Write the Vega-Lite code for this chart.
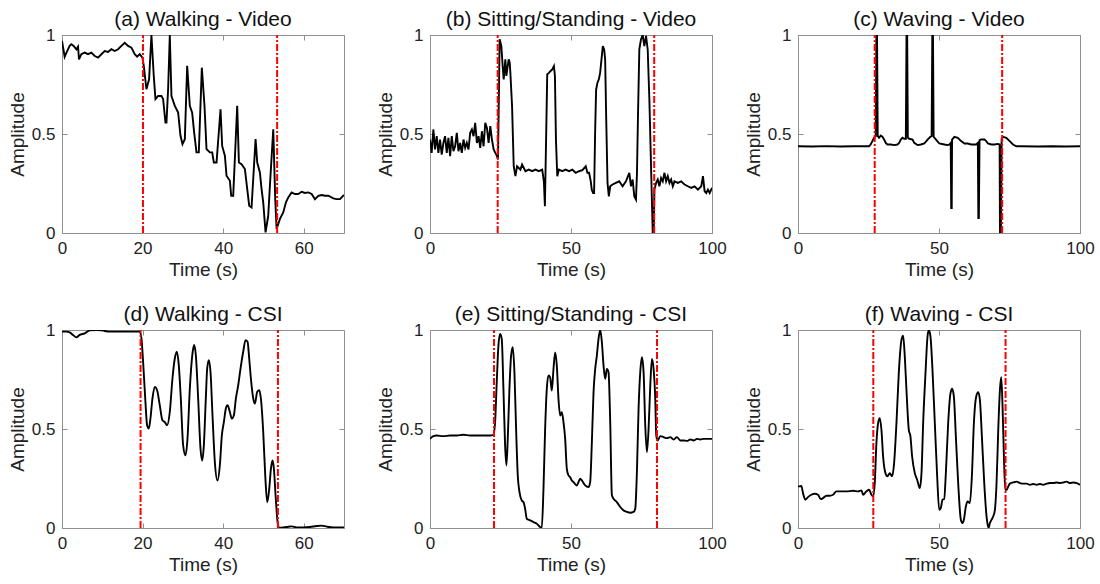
{
  "$schema": "https://vega.github.io/schema/vega-lite/v6.json",
  "background": "white",
  "padding": {"left": 7, "top": 8, "right": 5, "bottom": 5},
  "bounds": "flush",
  "columns": 3,
  "spacing": {"column": 86, "row": 97},
  "config": {
    "font": "Liberation Sans",
    "view": {"stroke": "#8f8f8f", "strokeWidth": 1},
    "axis": {"domain": false, "grid": false, "tickColor": "#8f8f8f", "tickSize": -5, "tickWidth": 1,
      "labelFontSize": 17, "labelColor": "#222222", "labelPadding": 12, "labelFlush": false,
      "titleFontSize": 19, "titleFontWeight": "normal", "titleColor": "#222222", "titlePadding": 4},
    "title": {"fontSize": 21, "fontWeight": "normal", "color": "#111111", "offset": -4}
  },
  "datasets": {
    "a": [{"t":0,"amp":0.97},{"t":0.66,"amp":0.89},{"t":1.08,"amp":0.91},{"t":1.91,"amp":0.945},{"t":2.32,"amp":0.953},{"t":2.9,"amp":0.945},{"t":3.56,"amp":0.928},{"t":3.98,"amp":0.941},{"t":4.22,"amp":0.877},{"t":4.8,"amp":0.903},{"t":5.63,"amp":0.911},{"t":6.46,"amp":0.903},{"t":7.29,"amp":0.911},{"t":8.12,"amp":0.894},{"t":8.95,"amp":0.886},{"t":9.78,"amp":0.903},{"t":10.6,"amp":0.919},{"t":11.43,"amp":0.914},{"t":12.26,"amp":0.928},{"t":13.09,"amp":0.919},{"t":13.92,"amp":0.928},{"t":14.75,"amp":0.945},{"t":15.57,"amp":0.961},{"t":16.4,"amp":0.945},{"t":17.23,"amp":0.936},{"t":18.06,"amp":0.903},{"t":18.64,"amp":0.891},{"t":19.3,"amp":0.903},{"t":19.96,"amp":0.886},{"t":20.3,"amp":0.844},{"t":20.96,"amp":0.726},{"t":21.62,"amp":0.776},{"t":22.2,"amp":1.0},{"t":22.78,"amp":0.793},{"t":23.2,"amp":0.676},{"t":23.86,"amp":0.692},{"t":24.69,"amp":0.692},{"t":25.1,"amp":0.676},{"t":25.68,"amp":0.558},{"t":25.93,"amp":0.558},{"t":26.34,"amp":0.726},{"t":26.76,"amp":1.0},{"t":27.17,"amp":0.692},{"t":28.0,"amp":0.642},{"t":28.83,"amp":0.608},{"t":29.41,"amp":0.491},{"t":29.91,"amp":0.449},{"t":30.49,"amp":0.474},{"t":31.07,"amp":0.844},{"t":31.73,"amp":0.642},{"t":32.31,"amp":0.608},{"t":32.8,"amp":0.508},{"t":33.38,"amp":0.407},{"t":33.96,"amp":0.407},{"t":34.71,"amp":0.835},{"t":35.37,"amp":0.642},{"t":35.87,"amp":0.424},{"t":36.7,"amp":0.407},{"t":37.28,"amp":0.407},{"t":37.69,"amp":0.356},{"t":38.36,"amp":0.356},{"t":39.35,"amp":0.625},{"t":39.76,"amp":0.44},{"t":40.43,"amp":0.39},{"t":40.84,"amp":0.289},{"t":41.67,"amp":0.264},{"t":42.0,"amp":0.188},{"t":42.5,"amp":0.188},{"t":43.49,"amp":0.642},{"t":43.91,"amp":0.356},{"t":44.57,"amp":0.348},{"t":45.4,"amp":0.323},{"t":45.98,"amp":0.222},{"t":46.47,"amp":0.138},{"t":47.05,"amp":0.129},{"t":48.05,"amp":0.474},{"t":48.46,"amp":0.356},{"t":49.12,"amp":0.306},{"t":49.54,"amp":0.222},{"t":49.95,"amp":0.155},{"t":50.53,"amp":0.003},{"t":51.19,"amp":0.087},{"t":51.61,"amp":0.239},{"t":52.44,"amp":0.524},{"t":52.93,"amp":0.171},{"t":53.27,"amp":0.02},{"t":54.1,"amp":0.071},{"t":54.92,"amp":0.104},{"t":55.59,"amp":0.155},{"t":56.17,"amp":0.18},{"t":56.99,"amp":0.205},{"t":57.82,"amp":0.197},{"t":58.65,"amp":0.197},{"t":59.48,"amp":0.208},{"t":60.31,"amp":0.202},{"t":61.14,"amp":0.205},{"t":61.97,"amp":0.197},{"t":62.79,"amp":0.171},{"t":63.62,"amp":0.188},{"t":64.45,"amp":0.192},{"t":65.28,"amp":0.188},{"t":66.11,"amp":0.188},{"t":67.35,"amp":0.175},{"t":68.18,"amp":0.171},{"t":69.01,"amp":0.171},{"t":69.42,"amp":0.18},{"t":70,"amp":0.192}],
    "b": [{"t":0,"amp":0.472},{"t":0.59,"amp":0.405},{"t":1.19,"amp":0.523},{"t":1.78,"amp":0.422},{"t":2.38,"amp":0.489},{"t":2.97,"amp":0.405},{"t":3.56,"amp":0.472},{"t":4.16,"amp":0.396},{"t":4.75,"amp":0.455},{"t":5.34,"amp":0.489},{"t":5.94,"amp":0.405},{"t":6.53,"amp":0.481},{"t":7.13,"amp":0.388},{"t":7.72,"amp":0.489},{"t":8.31,"amp":0.413},{"t":8.91,"amp":0.438},{"t":9.5,"amp":0.506},{"t":10.1,"amp":0.413},{"t":10.69,"amp":0.455},{"t":11.28,"amp":0.405},{"t":11.88,"amp":0.472},{"t":12.47,"amp":0.43},{"t":13.06,"amp":0.455},{"t":13.66,"amp":0.422},{"t":14.25,"amp":0.506},{"t":14.85,"amp":0.523},{"t":15.44,"amp":0.489},{"t":16.03,"amp":0.556},{"t":16.63,"amp":0.455},{"t":17.22,"amp":0.489},{"t":17.81,"amp":0.43},{"t":18.41,"amp":0.514},{"t":19.0,"amp":0.438},{"t":19.6,"amp":0.556},{"t":20.19,"amp":0.531},{"t":20.78,"amp":0.455},{"t":21.38,"amp":0.54},{"t":21.97,"amp":0.472},{"t":22.57,"amp":0.422},{"t":23.16,"amp":0.405},{"t":23.75,"amp":0.388},{"t":24.11,"amp":0.371},{"t":24.7,"amp":0.978},{"t":25.3,"amp":0.944},{"t":25.77,"amp":0.843},{"t":26.13,"amp":0.776},{"t":26.72,"amp":0.877},{"t":27.08,"amp":0.793},{"t":27.55,"amp":0.843},{"t":27.91,"amp":0.877},{"t":28.27,"amp":0.86},{"t":28.5,"amp":0.809},{"t":29.1,"amp":0.641},{"t":29.69,"amp":0.337},{"t":30.29,"amp":0.287},{"t":30.88,"amp":0.337},{"t":32.07,"amp":0.32},{"t":32.66,"amp":0.346},{"t":33.85,"amp":0.312},{"t":35.04,"amp":0.32},{"t":36.22,"amp":0.312},{"t":37.41,"amp":0.32},{"t":38.6,"amp":0.312},{"t":39.79,"amp":0.32},{"t":40.38,"amp":0.261},{"t":40.74,"amp":0.135},{"t":41.21,"amp":0.506},{"t":41.57,"amp":0.801},{"t":42.16,"amp":0.809},{"t":42.76,"amp":0.818},{"t":43.35,"amp":0.826},{"t":43.94,"amp":0.843},{"t":44.3,"amp":0.793},{"t":44.66,"amp":0.472},{"t":45.13,"amp":0.287},{"t":45.72,"amp":0.32},{"t":46.91,"amp":0.312},{"t":48.1,"amp":0.32},{"t":49.29,"amp":0.312},{"t":50.48,"amp":0.32},{"t":51.66,"amp":0.304},{"t":52.85,"amp":0.312},{"t":54.04,"amp":0.317},{"t":55.23,"amp":0.337},{"t":55.82,"amp":0.304},{"t":56.41,"amp":0.304},{"t":57.01,"amp":0.261},{"t":57.36,"amp":0.219},{"t":57.84,"amp":0.202},{"t":58.19,"amp":0.202},{"t":58.55,"amp":0.506},{"t":58.91,"amp":0.725},{"t":59.38,"amp":0.759},{"t":59.86,"amp":0.776},{"t":60.33,"amp":0.809},{"t":60.81,"amp":0.877},{"t":61.28,"amp":0.944},{"t":61.76,"amp":0.927},{"t":62.11,"amp":0.877},{"t":62.47,"amp":0.59},{"t":62.95,"amp":0.253},{"t":63.42,"amp":0.185},{"t":63.9,"amp":0.236},{"t":64.73,"amp":0.245},{"t":65.91,"amp":0.253},{"t":67.1,"amp":0.261},{"t":68.29,"amp":0.236},{"t":69.48,"amp":0.261},{"t":70.67,"amp":0.304},{"t":71.26,"amp":0.236},{"t":71.85,"amp":0.27},{"t":72.45,"amp":0.185},{"t":73.04,"amp":0.169},{"t":73.4,"amp":0.304},{"t":73.75,"amp":0.59},{"t":74.23,"amp":0.927},{"t":74.82,"amp":0.978},{"t":75.42,"amp":1.0},{"t":76.01,"amp":0.944},{"t":76.6,"amp":0.995},{"t":77.2,"amp":0.927},{"t":77.79,"amp":0.675},{"t":78.38,"amp":0.337},{"t":78.98,"amp":0},{"t":79.33,"amp":0},{"t":79.57,"amp":0.219},{"t":80.17,"amp":0.253},{"t":80.76,"amp":0.27},{"t":81.35,"amp":0.236},{"t":81.95,"amp":0.278},{"t":82.54,"amp":0.261},{"t":83.14,"amp":0.304},{"t":83.73,"amp":0.261},{"t":84.32,"amp":0.287},{"t":84.92,"amp":0.253},{"t":85.51,"amp":0.27},{"t":86.1,"amp":0.236},{"t":86.7,"amp":0.261},{"t":87.89,"amp":0.253},{"t":89.07,"amp":0.261},{"t":90.26,"amp":0.245},{"t":91.45,"amp":0.236},{"t":92.64,"amp":0.228},{"t":93.82,"amp":0.236},{"t":95.01,"amp":0.219},{"t":96.2,"amp":0.236},{"t":96.79,"amp":0.287},{"t":97.39,"amp":0.211},{"t":97.98,"amp":0.202},{"t":98.57,"amp":0.219},{"t":99.17,"amp":0.202},{"t":100,"amp":0.228}],
    "c": [{"t":0,"amp":0.438},{"t":5,"amp":0.437},{"t":10,"amp":0.439},{"t":15,"amp":0.437},{"t":20,"amp":0.438},{"t":25.18,"amp":0.438},{"t":25.77,"amp":0.447},{"t":26.37,"amp":0.464},{"t":26.96,"amp":0.481},{"t":27.55,"amp":0.489},{"t":27.79,"amp":1.0},{"t":28.03,"amp":1.0},{"t":28.27,"amp":0.489},{"t":28.74,"amp":0.481},{"t":29.33,"amp":0.492},{"t":29.93,"amp":0.486},{"t":30.52,"amp":0.472},{"t":31.12,"amp":0.455},{"t":31.71,"amp":0.447},{"t":32.9,"amp":0.447},{"t":34.09,"amp":0.444},{"t":35.27,"amp":0.447},{"t":35.87,"amp":0.455},{"t":36.46,"amp":0.472},{"t":37.05,"amp":0.481},{"t":37.65,"amp":0.476},{"t":38.24,"amp":0.476},{"t":38.48,"amp":1.0},{"t":38.72,"amp":1.0},{"t":38.95,"amp":0.481},{"t":39.43,"amp":0.476},{"t":40.62,"amp":0.472},{"t":41.21,"amp":0.455},{"t":42.4,"amp":0.444},{"t":43.59,"amp":0.447},{"t":44.77,"amp":0.452},{"t":45.96,"amp":0.472},{"t":46.91,"amp":0.486},{"t":47.39,"amp":0.489},{"t":47.62,"amp":1.0},{"t":47.86,"amp":1.0},{"t":48.1,"amp":0.486},{"t":48.93,"amp":0.472},{"t":50.12,"amp":0.452},{"t":51.9,"amp":0.447},{"t":53.09,"amp":0.444},{"t":53.68,"amp":0.447},{"t":54.16,"amp":0.455},{"t":54.33,"amp":0.126},{"t":54.51,"amp":0.126},{"t":54.63,"amp":0.472},{"t":55.46,"amp":0.486},{"t":56.65,"amp":0.481},{"t":57.84,"amp":0.464},{"t":59.03,"amp":0.452},{"t":60.21,"amp":0.452},{"t":61.4,"amp":0.447},{"t":63.18,"amp":0.447},{"t":63.78,"amp":0.455},{"t":63.95,"amp":0.076},{"t":64.13,"amp":0.076},{"t":64.37,"amp":0.469},{"t":64.96,"amp":0.472},{"t":66.15,"amp":0.472},{"t":66.75,"amp":0.464},{"t":67.34,"amp":0.452},{"t":68.53,"amp":0.447},{"t":69.71,"amp":0.447},{"t":70.9,"amp":0.45},{"t":71.5,"amp":0.447},{"t":71.62,"amp":0},{"t":71.97,"amp":0},{"t":72.21,"amp":0.476},{"t":72.68,"amp":0.486},{"t":73.87,"amp":0.481},{"t":75.06,"amp":0.464},{"t":76.25,"amp":0.447},{"t":77.43,"amp":0.438},{"t":79.22,"amp":0.438},{"t":85,"amp":0.437},{"t":90,"amp":0.438},{"t":95,"amp":0.437},{"t":100,"amp":0.438}],
    "d": [{"t":0,"amp":0.992},{"t":1.08,"amp":0.992},{"t":1.91,"amp":0.988},{"t":2.73,"amp":0.975},{"t":3.56,"amp":0.963},{"t":4.39,"amp":0.975},{"t":5.63,"amp":0.983},{"t":6.88,"amp":0.998},{"t":8.53,"amp":1.0},{"t":9.78,"amp":0.999},{"t":10.6,"amp":0.995},{"t":11.85,"amp":0.992},{"t":14.33,"amp":0.992},{"t":17.65,"amp":0.992},{"t":19.3,"amp":0.992},{"t":19.72,"amp":0.958},{"t":20.13,"amp":0.84},{"t":20.71,"amp":0.637},{"t":21.12,"amp":0.519},{"t":21.54,"amp":0.502},{"t":21.95,"amp":0.552},{"t":22.45,"amp":0.654},{"t":23.03,"amp":0.713},{"t":23.61,"amp":0.696},{"t":24.27,"amp":0.62},{"t":24.94,"amp":0.544},{"t":25.52,"amp":0.535},{"t":26.09,"amp":0.519},{"t":26.76,"amp":0.586},{"t":27.42,"amp":0.755},{"t":28.0,"amp":0.856},{"t":28.5,"amp":0.89},{"t":28.99,"amp":0.823},{"t":29.49,"amp":0.654},{"t":30.07,"amp":0.417},{"t":30.65,"amp":0.367},{"t":31.15,"amp":0.451},{"t":31.73,"amp":0.704},{"t":32.39,"amp":0.882},{"t":32.8,"amp":0.924},{"t":33.22,"amp":0.873},{"t":33.8,"amp":0.654},{"t":34.38,"amp":0.4},{"t":34.79,"amp":0.341},{"t":35.21,"amp":0.417},{"t":35.7,"amp":0.654},{"t":36.04,"amp":0.806},{"t":36.45,"amp":0.848},{"t":36.86,"amp":0.789},{"t":37.36,"amp":0.569},{"t":37.94,"amp":0.333},{"t":38.6,"amp":0.24},{"t":39.18,"amp":0.316},{"t":39.68,"amp":0.468},{"t":40.18,"amp":0.535},{"t":40.67,"amp":0.603},{"t":41.09,"amp":0.62},{"t":41.67,"amp":0.586},{"t":42.16,"amp":0.552},{"t":42.66,"amp":0.569},{"t":43.16,"amp":0.654},{"t":43.74,"amp":0.721},{"t":44.32,"amp":0.806},{"t":44.98,"amp":0.89},{"t":45.56,"amp":0.949},{"t":46.06,"amp":0.941},{"t":46.47,"amp":0.856},{"t":46.89,"amp":0.755},{"t":47.47,"amp":0.654},{"t":47.88,"amp":0.628},{"t":48.46,"amp":0.688},{"t":48.96,"amp":0.696},{"t":49.37,"amp":0.654},{"t":49.95,"amp":0.485},{"t":50.45,"amp":0.265},{"t":50.95,"amp":0.13},{"t":51.44,"amp":0.198},{"t":51.86,"amp":0.299},{"t":52.27,"amp":0.341},{"t":52.6,"amp":0.299},{"t":53.02,"amp":0.164},{"t":53.52,"amp":0.029},{"t":53.93,"amp":0},{"t":54.51,"amp":0.002},{"t":55.75,"amp":0.005},{"t":57.0,"amp":0.008},{"t":58.24,"amp":0.003},{"t":59.89,"amp":0.003},{"t":61.55,"amp":0.005},{"t":63.21,"amp":0.01},{"t":64.45,"amp":0.012},{"t":65.69,"amp":0.007},{"t":67.35,"amp":0.003},{"t":70,"amp":0.003}],
    "e": [{"t":0,"amp":0.45},{"t":1.18,"amp":0.464},{"t":2.37,"amp":0.467},{"t":4.73,"amp":0.464},{"t":7.1,"amp":0.467},{"t":9.47,"amp":0.467},{"t":11.83,"amp":0.471},{"t":14.2,"amp":0.467},{"t":16.57,"amp":0.467},{"t":18.93,"amp":0.467},{"t":21.3,"amp":0.467},{"t":22.49,"amp":0.471},{"t":23.08,"amp":0.534},{"t":23.67,"amp":0.736},{"t":24.26,"amp":0.921},{"t":24.85,"amp":0.98},{"t":25.44,"amp":0.955},{"t":26.04,"amp":0.703},{"t":26.63,"amp":0.417},{"t":27.1,"amp":0.316},{"t":27.57,"amp":0.45},{"t":28.17,"amp":0.703},{"t":28.76,"amp":0.871},{"t":29.35,"amp":0.913},{"t":29.94,"amp":0.787},{"t":30.53,"amp":0.501},{"t":31.12,"amp":0.266},{"t":31.72,"amp":0.182},{"t":32.54,"amp":0.139},{"t":33.14,"amp":0.131},{"t":33.73,"amp":0.097},{"t":34.32,"amp":0.047},{"t":35.5,"amp":0.039},{"t":36.69,"amp":0.03},{"t":37.87,"amp":0.022},{"t":39.05,"amp":0.005},{"t":39.64,"amp":0},{"t":40.24,"amp":0.198},{"t":40.83,"amp":0.501},{"t":41.42,"amp":0.703},{"t":42.01,"amp":0.77},{"t":42.6,"amp":0.761},{"t":43.2,"amp":0.694},{"t":43.79,"amp":0.803},{"t":44.38,"amp":0.887},{"t":44.97,"amp":0.82},{"t":45.56,"amp":0.652},{"t":46.15,"amp":0.568},{"t":46.75,"amp":0.585},{"t":47.34,"amp":0.534},{"t":47.93,"amp":0.45},{"t":48.52,"amp":0.299},{"t":49.11,"amp":0.266},{"t":49.7,"amp":0.257},{"t":50.3,"amp":0.24},{"t":50.89,"amp":0.232},{"t":52.07,"amp":0.215},{"t":52.66,"amp":0.232},{"t":53.25,"amp":0.249},{"t":53.85,"amp":0.24},{"t":55.03,"amp":0.215},{"t":56.21,"amp":0.207},{"t":56.8,"amp":0.232},{"t":57.4,"amp":0.434},{"t":57.99,"amp":0.686},{"t":58.58,"amp":0.803},{"t":59.17,"amp":0.871},{"t":59.76,"amp":0.955},{"t":60.36,"amp":1.0},{"t":60.95,"amp":0.938},{"t":61.54,"amp":0.82},{"t":62.13,"amp":0.753},{"t":62.72,"amp":0.803},{"t":63.31,"amp":0.787},{"t":63.91,"amp":0.534},{"t":64.5,"amp":0.165},{"t":65.09,"amp":0.148},{"t":66.27,"amp":0.131},{"t":67.46,"amp":0.106},{"t":68.64,"amp":0.089},{"t":69.82,"amp":0.081},{"t":71.01,"amp":0.077},{"t":72.19,"amp":0.081},{"t":72.78,"amp":0.097},{"t":73.37,"amp":0.282},{"t":73.96,"amp":0.602},{"t":74.56,"amp":0.787},{"t":75.15,"amp":0.862},{"t":75.74,"amp":0.787},{"t":76.33,"amp":0.518},{"t":76.92,"amp":0.383},{"t":77.51,"amp":0.501},{"t":78.11,"amp":0.719},{"t":78.7,"amp":0.854},{"t":79.29,"amp":0.803},{"t":79.88,"amp":0.652},{"t":80.24,"amp":0.467},{"t":80.71,"amp":0.442},{"t":81.66,"amp":0.464},{"t":82.84,"amp":0.459},{"t":84.02,"amp":0.454},{"t":85.21,"amp":0.459},{"t":86.39,"amp":0.447},{"t":87.57,"amp":0.459},{"t":88.76,"amp":0.442},{"t":89.94,"amp":0.442},{"t":91.12,"amp":0.44},{"t":92.31,"amp":0.447},{"t":93.49,"amp":0.442},{"t":94.67,"amp":0.45},{"t":95.86,"amp":0.447},{"t":97.04,"amp":0.45},{"t":100,"amp":0.45}],
    "f": [{"t":0,"amp":0.21},{"t":0.59,"amp":0.21},{"t":1.18,"amp":0.213},{"t":1.78,"amp":0.176},{"t":2.6,"amp":0.143},{"t":3.55,"amp":0.156},{"t":4.73,"amp":0.168},{"t":5.92,"amp":0.173},{"t":7.1,"amp":0.168},{"t":8.05,"amp":0.146},{"t":8.88,"amp":0.151},{"t":10.06,"amp":0.163},{"t":11.24,"amp":0.163},{"t":12.43,"amp":0.168},{"t":13.61,"amp":0.185},{"t":15.38,"amp":0.185},{"t":17.16,"amp":0.185},{"t":19.53,"amp":0.188},{"t":21.3,"amp":0.185},{"t":22.49,"amp":0.19},{"t":23.08,"amp":0.168},{"t":24.26,"amp":0.185},{"t":25.21,"amp":0.193},{"t":26.04,"amp":0.168},{"t":26.63,"amp":0.16},{"t":27.22,"amp":0.227},{"t":27.81,"amp":0.429},{"t":28.4,"amp":0.529},{"t":28.99,"amp":0.555},{"t":29.59,"amp":0.496},{"t":30.18,"amp":0.361},{"t":31.01,"amp":0.277},{"t":31.72,"amp":0.261},{"t":32.54,"amp":0.277},{"t":33.37,"amp":0.261},{"t":34.08,"amp":0.328},{"t":34.91,"amp":0.529},{"t":35.74,"amp":0.782},{"t":36.69,"amp":0.95},{"t":37.28,"amp":0.971},{"t":37.87,"amp":0.866},{"t":38.46,"amp":0.697},{"t":39.29,"amp":0.496},{"t":39.88,"amp":0.462},{"t":40.47,"amp":0.361},{"t":41.42,"amp":0.277},{"t":42.25,"amp":0.244},{"t":43.2,"amp":0.202},{"t":43.79,"amp":0.277},{"t":44.38,"amp":0.529},{"t":45.21,"amp":0.782},{"t":45.92,"amp":0.966},{"t":46.39,"amp":1.0},{"t":46.98,"amp":0.966},{"t":47.69,"amp":0.798},{"t":48.52,"amp":0.529},{"t":49.35,"amp":0.261},{"t":50.06,"amp":0.092},{"t":50.65,"amp":0.101},{"t":51.24,"amp":0.143},{"t":51.83,"amp":0.146},{"t":52.43,"amp":0.277},{"t":53.25,"amp":0.529},{"t":54.08,"amp":0.681},{"t":54.67,"amp":0.703},{"t":55.27,"amp":0.664},{"t":55.98,"amp":0.462},{"t":56.8,"amp":0.227},{"t":57.75,"amp":0.042},{"t":58.34,"amp":0.025},{"t":58.82,"amp":0.042},{"t":59.53,"amp":0.109},{"t":60.12,"amp":0.134},{"t":60.95,"amp":0.126},{"t":61.66,"amp":0.261},{"t":62.37,"amp":0.529},{"t":63.2,"amp":0.664},{"t":63.91,"amp":0.686},{"t":64.5,"amp":0.647},{"t":65.21,"amp":0.462},{"t":66.04,"amp":0.227},{"t":66.86,"amp":0.059},{"t":67.57,"amp":0},{"t":68.05,"amp":0.025},{"t":68.64,"amp":0.042},{"t":69.23,"amp":0.059},{"t":69.82,"amp":0.092},{"t":70.41,"amp":0.227},{"t":71.01,"amp":0.496},{"t":71.6,"amp":0.697},{"t":72.07,"amp":0.761},{"t":72.54,"amp":0.613},{"t":73.02,"amp":0.361},{"t":73.49,"amp":0.193},{"t":73.96,"amp":0.193},{"t":74.56,"amp":0.21},{"t":75.15,"amp":0.224},{"t":76.33,"amp":0.23},{"t":77.51,"amp":0.234},{"t":78.7,"amp":0.227},{"t":79.88,"amp":0.224},{"t":81.07,"amp":0.224},{"t":82.25,"amp":0.218},{"t":83.43,"amp":0.222},{"t":84.62,"amp":0.218},{"t":85.8,"amp":0.222},{"t":86.98,"amp":0.218},{"t":88.17,"amp":0.224},{"t":89.35,"amp":0.227},{"t":90.53,"amp":0.227},{"t":91.72,"amp":0.23},{"t":92.9,"amp":0.227},{"t":94.08,"amp":0.23},{"t":95.27,"amp":0.234},{"t":96.45,"amp":0.227},{"t":97.63,"amp":0.23},{"t":98.82,"amp":0.227},{"t":100,"amp":0.218}]
  },
  "concat": [
    {
      "title": "(a) Walking - Video", "width": 282, "height": 198,
      "resolve": {"axis": {"x": "independent", "y": "independent"}},
      "layer": [
        {"data": {"name": "a"}, "mark": {"type": "line", "color": "black", "strokeWidth": 1.9, "clip": true},
         "encoding": {"x": {"field": "t", "type": "quantitative", "scale": {"domain": [0, 70], "nice": false}, "axis": {"orient": "bottom", "values": [0, 20, 40, 60], "title": "Time (s)"}},
                      "y": {"field": "amp", "type": "quantitative", "scale": {"domain": [0, 1], "nice": false}, "axis": {"orient": "left", "values": [0, 0.5, 1], "format": "~g", "title": "Amplitude"}}}},
        {"data": {"values": [{"t": 20.1}, {"t": 53.4}]}, "mark": {"type": "rule", "color": "#ff0000", "strokeWidth": 2, "strokeDash": [7, 2, 2, 2]},
         "encoding": {"x": {"field": "t", "type": "quantitative", "axis": {"orient": "top", "values": [0, 20, 40, 60], "labels": false, "title": null}},
                      "y": {"datum": 0, "type": "quantitative", "axis": {"orient": "right", "values": [0, 0.5, 1], "labels": false, "title": null}}, "y2": {"datum": 1}}}
      ]
    },
    {
      "title": "(b) Sitting/Standing - Video", "width": 282, "height": 198,
      "resolve": {"axis": {"x": "independent", "y": "independent"}},
      "layer": [
        {"data": {"name": "b"}, "mark": {"type": "line", "color": "black", "strokeWidth": 1.9, "clip": true},
         "encoding": {"x": {"field": "t", "type": "quantitative", "scale": {"domain": [0, 100], "nice": false}, "axis": {"orient": "bottom", "values": [0, 50, 100], "title": "Time (s)"}},
                      "y": {"field": "amp", "type": "quantitative", "scale": {"domain": [0, 1], "nice": false}, "axis": {"orient": "left", "values": [0, 0.5, 1], "format": "~g", "title": "Amplitude"}}}},
        {"data": {"values": [{"t": 24.0}, {"t": 79.5}]}, "mark": {"type": "rule", "color": "#ff0000", "strokeWidth": 2, "strokeDash": [7, 2, 2, 2]},
         "encoding": {"x": {"field": "t", "type": "quantitative", "axis": {"orient": "top", "values": [0, 50, 100], "labels": false, "title": null}},
                      "y": {"datum": 0, "type": "quantitative", "axis": {"orient": "right", "values": [0, 0.5, 1], "labels": false, "title": null}}, "y2": {"datum": 1}}}
      ]
    },
    {
      "title": "(c) Waving - Video", "width": 282, "height": 198,
      "resolve": {"axis": {"x": "independent", "y": "independent"}},
      "layer": [
        {"data": {"name": "c"}, "mark": {"type": "line", "color": "black", "strokeWidth": 1.9, "clip": true},
         "encoding": {"x": {"field": "t", "type": "quantitative", "scale": {"domain": [0, 100], "nice": false}, "axis": {"orient": "bottom", "values": [0, 50, 100], "title": "Time (s)"}},
                      "y": {"field": "amp", "type": "quantitative", "scale": {"domain": [0, 1], "nice": false}, "axis": {"orient": "left", "values": [0, 0.5, 1], "format": "~g", "title": "Amplitude"}}}},
        {"data": {"values": [{"t": 27.2}, {"t": 72.4}]}, "mark": {"type": "rule", "color": "#ff0000", "strokeWidth": 2, "strokeDash": [7, 2, 2, 2]},
         "encoding": {"x": {"field": "t", "type": "quantitative", "axis": {"orient": "top", "values": [0, 50, 100], "labels": false, "title": null}},
                      "y": {"datum": 0, "type": "quantitative", "axis": {"orient": "right", "values": [0, 0.5, 1], "labels": false, "title": null}}, "y2": {"datum": 1}}}
      ]
    },
    {
      "title": "(d) Walking - CSI", "width": 282, "height": 198,
      "resolve": {"axis": {"x": "independent", "y": "independent"}},
      "layer": [
        {"data": {"name": "d"}, "mark": {"type": "line", "color": "black", "strokeWidth": 1.9, "clip": true, "interpolate": "monotone"},
         "encoding": {"x": {"field": "t", "type": "quantitative", "scale": {"domain": [0, 70], "nice": false}, "axis": {"orient": "bottom", "values": [0, 20, 40, 60], "title": "Time (s)"}},
                      "y": {"field": "amp", "type": "quantitative", "scale": {"domain": [0, 1], "nice": false}, "axis": {"orient": "left", "values": [0, 0.5, 1], "format": "~g", "title": "Amplitude"}}}},
        {"data": {"values": [{"t": 19.5}, {"t": 53.6}]}, "mark": {"type": "rule", "color": "#ff0000", "strokeWidth": 2, "strokeDash": [7, 2, 2, 2]},
         "encoding": {"x": {"field": "t", "type": "quantitative", "axis": {"orient": "top", "values": [0, 20, 40, 60], "labels": false, "title": null}},
                      "y": {"datum": 0, "type": "quantitative", "axis": {"orient": "right", "values": [0, 0.5, 1], "labels": false, "title": null}}, "y2": {"datum": 1}}}
      ]
    },
    {
      "title": "(e) Sitting/Standing - CSI", "width": 282, "height": 198,
      "resolve": {"axis": {"x": "independent", "y": "independent"}},
      "layer": [
        {"data": {"name": "e"}, "mark": {"type": "line", "color": "black", "strokeWidth": 1.9, "clip": true, "interpolate": "monotone"},
         "encoding": {"x": {"field": "t", "type": "quantitative", "scale": {"domain": [0, 100], "nice": false}, "axis": {"orient": "bottom", "values": [0, 50, 100], "title": "Time (s)"}},
                      "y": {"field": "amp", "type": "quantitative", "scale": {"domain": [0, 1], "nice": false}, "axis": {"orient": "left", "values": [0, 0.5, 1], "format": "~g", "title": "Amplitude"}}}},
        {"data": {"values": [{"t": 22.7}, {"t": 80.5}]}, "mark": {"type": "rule", "color": "#ff0000", "strokeWidth": 2, "strokeDash": [7, 2, 2, 2]},
         "encoding": {"x": {"field": "t", "type": "quantitative", "axis": {"orient": "top", "values": [0, 50, 100], "labels": false, "title": null}},
                      "y": {"datum": 0, "type": "quantitative", "axis": {"orient": "right", "values": [0, 0.5, 1], "labels": false, "title": null}}, "y2": {"datum": 1}}}
      ]
    },
    {
      "title": "(f) Waving - CSI", "width": 282, "height": 198,
      "resolve": {"axis": {"x": "independent", "y": "independent"}},
      "layer": [
        {"data": {"name": "f"}, "mark": {"type": "line", "color": "black", "strokeWidth": 1.9, "clip": true, "interpolate": "monotone"},
         "encoding": {"x": {"field": "t", "type": "quantitative", "scale": {"domain": [0, 100], "nice": false}, "axis": {"orient": "bottom", "values": [0, 50, 100], "title": "Time (s)"}},
                      "y": {"field": "amp", "type": "quantitative", "scale": {"domain": [0, 1], "nice": false}, "axis": {"orient": "left", "values": [0, 0.5, 1], "format": "~g", "title": "Amplitude"}}}},
        {"data": {"values": [{"t": 26.7}, {"t": 73.6}]}, "mark": {"type": "rule", "color": "#ff0000", "strokeWidth": 2, "strokeDash": [7, 2, 2, 2]},
         "encoding": {"x": {"field": "t", "type": "quantitative", "axis": {"orient": "top", "values": [0, 50, 100], "labels": false, "title": null}},
                      "y": {"datum": 0, "type": "quantitative", "axis": {"orient": "right", "values": [0, 0.5, 1], "labels": false, "title": null}}, "y2": {"datum": 1}}}
      ]
    }
  ]
}
